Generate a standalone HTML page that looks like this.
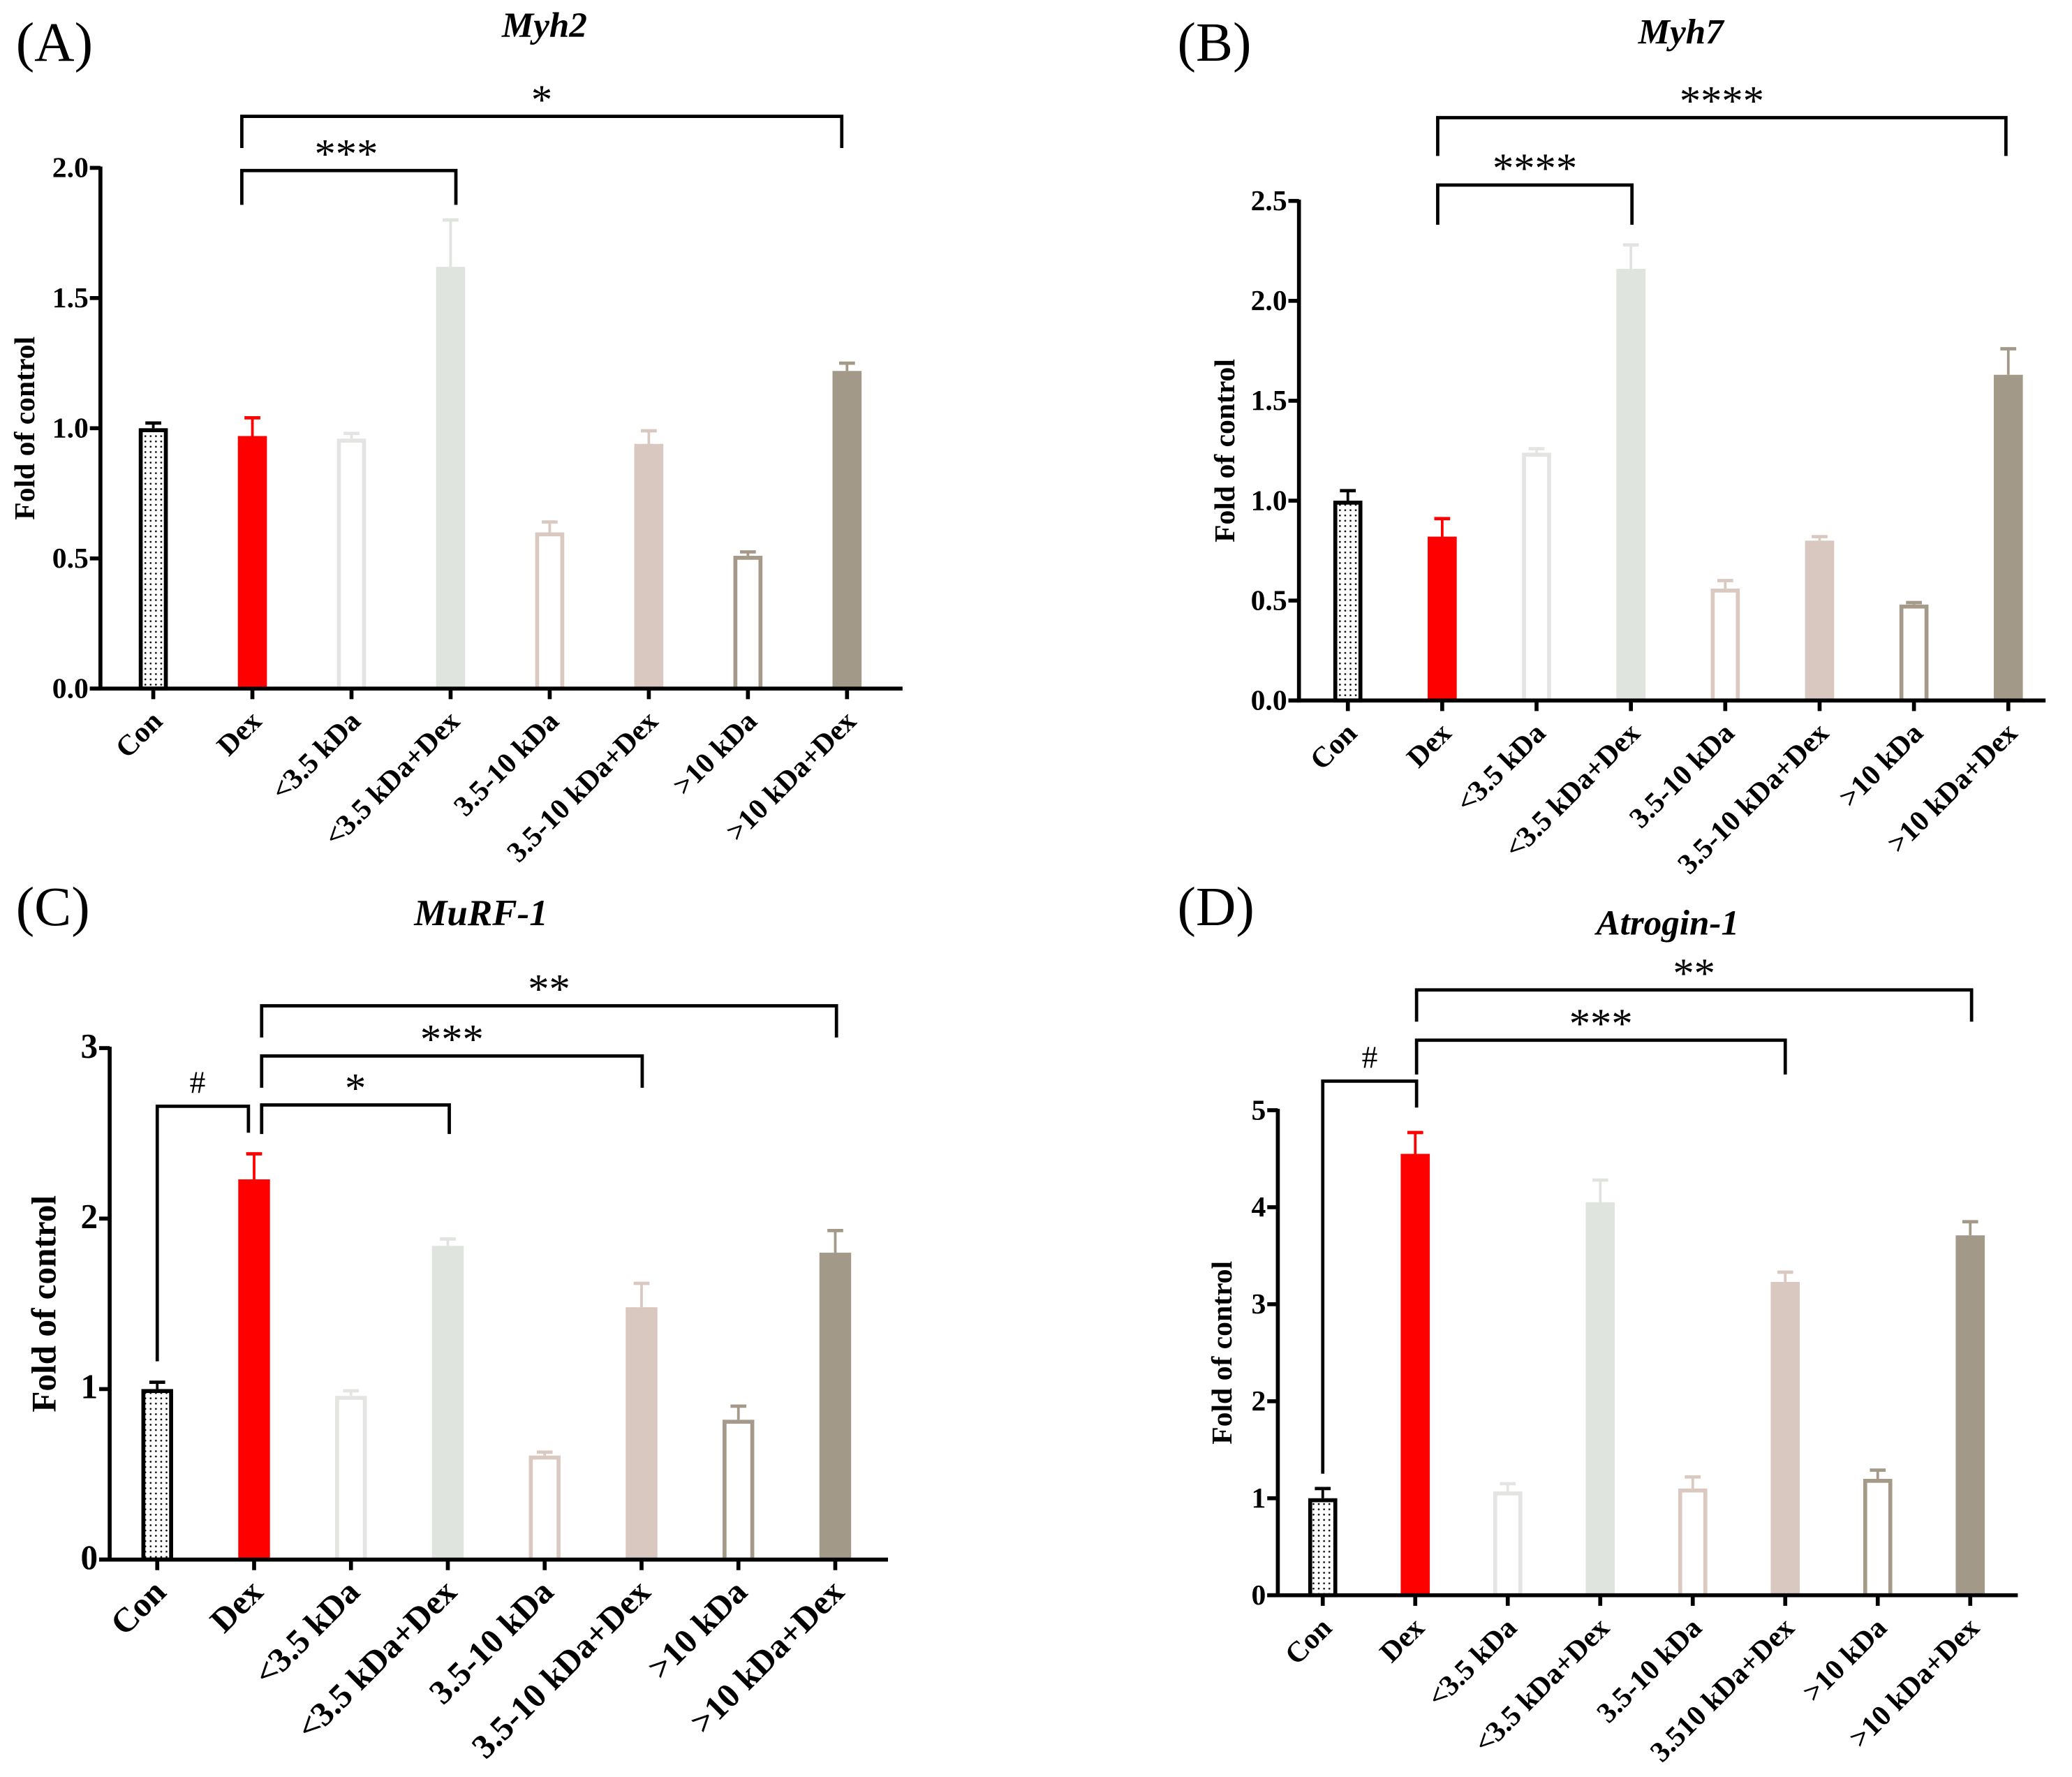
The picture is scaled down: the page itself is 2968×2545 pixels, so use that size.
<!DOCTYPE html>
<html><head><meta charset="utf-8"><style>
html,body{margin:0;padding:0;background:#fff}
svg{display:block}
text{font-family:"Liberation Serif",serif}
</style></head><body>
<svg id="fig" width="2968" height="2545" viewBox="0 0 1568 1344.5" xmlns="http://www.w3.org/2000/svg">
<defs>
<pattern id="dots" width="4" height="4" patternUnits="userSpaceOnUse"><rect width="4" height="4" fill="#fff"/><circle cx="2" cy="2" r="0.7" fill="#000"/></pattern>
</defs>
</svg>
<script>
const categoriesABC = ["Con","Dex","<3.5 kDa","<3.5 kDa+Dex","3.5-10 kDa","3.5-10 kDa+Dex",">10 kDa",">10 kDa+Dex"];
const categoriesD = ["Con","Dex","<3.5 kDa","<3.5 kDa+Dex","3.5-10 kDa","3.510 kDa+Dex",">10 kDa",">10 kDa+Dex"];
const valuesA = [1.0,0.97,0.96,1.62,0.60,0.94,0.51,1.22];
const errorsA = [0.02,0.07,0.02,0.18,0.04,0.05,0.015,0.03];
const valuesB = [1.0,0.82,1.24,2.16,0.56,0.80,0.48,1.63];
const errorsB = [0.05,0.09,0.02,0.12,0.04,0.02,0.01,0.13];
const valuesC = [1.0,2.23,0.96,1.84,0.61,1.48,0.82,1.80];
const errorsC = [0.04,0.15,0.03,0.04,0.02,0.14,0.08,0.13];
const valuesD = [1.0,4.55,1.07,4.05,1.10,3.23,1.20,3.71];
const errorsD = [0.10,0.22,0.08,0.23,0.12,0.10,0.09,0.14];
const ticksA = ["0.0","0.5","1.0","1.5","2.0"];
const ticksB = ["0.0","0.5","1.0","1.5","2.0","2.5"];
const ticksC = ["0","1","2","3"];
const ticksD = ["0","1","2","3","4","5"];

const NS="http://www.w3.org/2000/svg";
const svg=document.getElementById('fig');
function mk(tag,attrs,parent,txt){const e=document.createElementNS(NS,tag);for(const k in attrs)e.setAttribute(k,attrs[k]);if(txt!==undefined)e.textContent=txt;(parent||svg).appendChild(e);return e;}
const styles=[
 {fill:"url(#dots)",stroke:"#000",sw:3},
 {fill:"#ff0000",stroke:"none",sw:0},
 {fill:"#fff",stroke:"#e4e5e2",sw:3},
 {fill:"#e0e4df",stroke:"none",sw:0},
 {fill:"#fff",stroke:"#d9c9c0",sw:3},
 {fill:"#d9c8c0",stroke:"none",sw:0},
 {fill:"#fff",stroke:"#a59a8a",sw:3},
 {fill:"#a39988",stroke:"none",sw:0}];
const errCol=["#000","#ff0000","#e4e5e2","#e0e4df","#d9c9c0","#d9c8c0","#a59a8a","#a39988"];

function panel(p){
  const g=mk('g',{});
  
  
  const y=v=>p.y0-(v/p.ymax)*(p.y0-p.ytop);
  const x=i=>p.x0c+i*p.dx;
  const lt=mk('text',{x:p.lx,y:p.ly,'font-size':42},g,'('+p.id.toUpperCase()+')');
  
  const t=mk('text',{x:p.tx,y:p.ty,'font-size':p.tfs,'font-weight':'bold','font-style':'italic','text-anchor':'middle'},g,p.title);
  
  p.vals.forEach((v,i)=>{
    const s=styles[i],bw=p.bw,cx=x(i),top=y(v),eh=y(v+p.errs[i]);
    const el=mk('line',{x1:cx,x2:cx,y1:top,y2:eh,stroke:errCol[i],'stroke-width':2},g);
    
    const ec=mk('line',{x1:cx-6,x2:cx+6,y1:eh,y2:eh,stroke:errCol[i],'stroke-width':2.5},g);
    
    const inset=s.sw/2;
    const r=mk('rect',{x:cx-bw/2+inset,y:top+inset,width:bw-2*inset,height:p.y0-top-inset,fill:s.fill,stroke:s.stroke,'stroke-width':s.sw},g);
    
  });
  const ya=mk('line',{x1:p.x0,x2:p.x0,y1:p.ytop-1,y2:p.y0+1.5,stroke:'#000','stroke-width':3},g);
  
  const xa=mk('line',{x1:p.x0-8,x2:p.x1,y1:p.y0,y2:p.y0,stroke:'#000','stroke-width':3},g);
  
  p.ticks.forEach((tl,k)=>{
    const v=k*p.ymax/(p.ticks.length-1),yy=y(v);
    mk('line',{x1:p.x0-8,x2:p.x0,y1:yy,y2:yy,stroke:'#000','stroke-width':3},g);
    const tt=mk('text',{x:p.x0-9,y:yy+7,'font-size':p.fs,'font-weight':'bold','text-anchor':'end'},g,tl);
    
  });
  p.cats.forEach((c,i)=>{
    mk('line',{x1:x(i),x2:x(i),y1:p.y0,y2:p.y0+8,stroke:'#000','stroke-width':3},g);
    const ct=mk('text',{x:x(i)+8,y:p.y0+26,'font-size':p.fs,'font-weight':'bold','text-anchor':'end',transform:`rotate(-45 ${x(i)+8} ${p.y0+26})`},g,c);
    
  });
  const yt=mk('text',{x:0,y:0,'font-size':p.fs,'font-weight':'bold','text-anchor':'middle',transform:`translate(${p.ytx},${(p.ytop+p.y0)/2}) rotate(-90)`},g,'Fold of control');
  
  p.br.forEach(b=>{
    const pl=mk('polyline',{points:`${b[0]},${b[3]} ${b[0]},${b[2]} ${b[1]},${b[2]} ${b[1]},${b[4]}`,fill:'none',stroke:'#000','stroke-width':2.5},g);
    
    const st=mk('text',{x:(b[0]+b[1])/2+(b[6]||0),y:b[2]-(b[5]=='#'?10:2),'font-size':b[5]=='#'?24:32,'text-anchor':'middle'},g,b[5]);
    
  });
}
panel({id:'a',title:'Myh2',tx:412,ty:28,tfs:27,lx:12,ly:46,x0:76,x1:683,y0:521,ytop:127,ymax:2,x0c:116,dx:75,bw:22,fs:22,ytx:26,
  vals:valuesA,errs:errorsA,ticks:ticksA,cats:categoriesABC,
  br:[[183,345,129,155,155,'***',-2],[183,637,88,112,112,'*',0]]});
panel({id:'b',title:'Myh7',tx:1272,ty:33,tfs:27,lx:891,ly:46,x0:983,x1:1548,y0:530,ytop:152,ymax:2.5,x0c:1020,dx:71.4,bw:22,fs:22,ytx:934,
  vals:valuesB,errs:errorsB,ticks:ticksB,cats:categoriesABC,
  br:[[1088,1235,140,170,170,'****',0],[1088,1518,89,118,118,'****',0]]});
panel({id:'c',title:'MuRF-1',tx:364,ty:700,tfs:28,lx:12,ly:700,x0:83,x1:672,y0:1180,ytop:793,ymax:3,x0c:119,dx:73.3,bw:24,fs:26,ytx:42,
  vals:valuesC,errs:errorsC,ticks:ticksC,cats:categoriesABC,
  br:[[119,188,837,1030,857,'#',-4],[198,340,836,858,858,'*',0],[198,486,799,823,823,'***',0],[198,633,761,785,785,'**',0]]});
panel({id:'d',title:'Atrogin-1',tx:1262,ty:707,tfs:27,lx:891,ly:700,x0:967,x1:1527,y0:1207,ytop:840,ymax:5,x0c:1001,dx:70,bw:22,fs:22,ytx:932,
  vals:valuesD,errs:errorsD,ticks:ticksD,cats:categoriesD,
  br:[[1001,1072,818,1115,838,'#',0],[1072,1351,787,813,813,'***',0],[1072,1492,749,773,773,'**',0]]});
</script>
</body></html>
